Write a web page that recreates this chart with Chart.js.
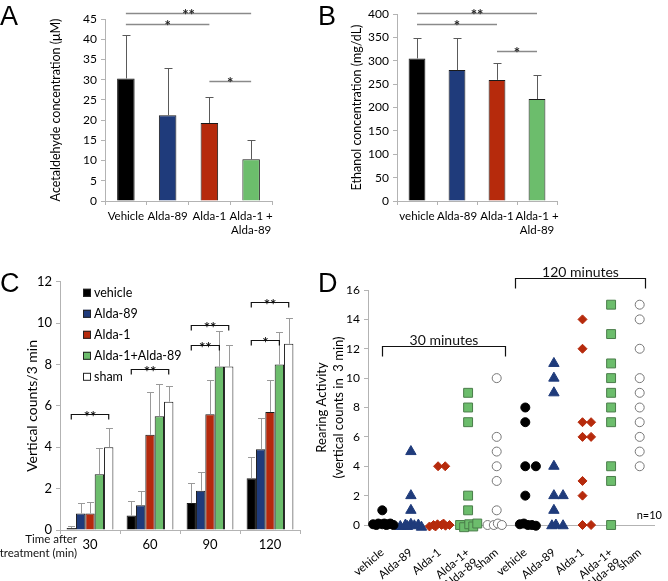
<!DOCTYPE html>
<html>
<head>
<meta charset="utf-8">
<script src="https://cdn.jsdelivr.net/npm/chart.js@4.4.1/dist/chart.umd.min.js"></script>
<style>
body { margin: 0; background: #fff; }
#wrap { position: relative; width: 668px; height: 581px; overflow: hidden; }
canvas { position: absolute; }
.lt { position: absolute; font-family: "Liberation Sans", Arial, sans-serif; font-size: 27px; line-height: 1; color: #000; }
</style>
</head>
<body>
<div id="wrap">
  <canvas id="cA" width="334" height="270" style="left:0;top:0"></canvas>
  <canvas id="cB" width="334" height="270" style="left:334px;top:0"></canvas>
  <canvas id="cC" width="334" height="311" style="left:0;top:270px"></canvas>
  <canvas id="cD" width="363" height="331" style="left:305px;top:250px"></canvas>
  <div class="lt" style="left:0;top:3px">A</div>
  <div class="lt" style="left:318px;top:3px">B</div>
  <div class="lt" style="left:0;top:270px">C</div>
  <div class="lt" style="left:318px;top:270px">D</div>
</div>
<script>
// ---- data ----
var catsA = ['Vehicle', 'Alda-89', 'Alda-1', ['Alda-1 +', 'Alda-89']]
var meanA = [30.3, 21.2, 19.3, 10.3]
var sdA = [10.7, 11.6, 6.5, 4.8]
// [from cat, to cat, y, label]
var sigA = [[0, 3, 46.6, '**'], [0, 2, 43.8, '*'], [2, 3, 29.7, '*']]

var catsB = ['vehicle', 'Alda-89', 'Alda-1', ['Alda-1 +', 'Ald-89']]
var meanB = [305, 280, 259, 218]
var sdB = [43, 68, 37, 52]
var sigB = [[0, 3, 403, '**'], [0, 2, 379, '*'], [2, 3, 321, '*']]

var timesC = ['30', '60', '90', '120']
var vehicleC = [0.1, 0.7, 1.3, 2.5]
var vehicleSdC = [0.1, 0.7, 0.95, 1.05]
var alda89C = [0.8, 1.2, 1.9, 3.9]
var alda89SdC = [0.5, 0.7, 0.9, 1.5]
var alda1C = [0.8, 4.6, 5.6, 5.7]
var alda1SdC = [0.55, 2.05, 1.65, 1.55]
var comboC = [2.7, 5.5, 7.9, 8.0]
var comboSdC = [1.25, 1.55, 1.7, 1.55]
var shamC = [4.0, 6.2, 7.9, 9.0]
var shamSdC = [0.95, 0.75, 1.05, 1.25]
// [group, from dataset, to dataset, y, label]
var sigC = [[0, 0, 4, 5.6, '**'], [1, 0, 4, 7.8, '**'], [2, 0, 4, 9.9, '**'],
            [2, 0, 3, 8.95, '**'], [3, 0, 4, 11.0, '**'], [3, 0, 3, 9.2, '*']]

var catsD = ['vehicle', 'Alda-89', 'Alda-1', ['Alda-1+', 'Alda-89'], 'sham',
             'vehicle', 'Alda-89', 'Alda-1', ['Alda-1+', 'Alda-89'], 'sham']
// rearing counts per animal, with the sideways jitter used in the picture
var vehicle30 = [1, 0.05, 0.1, 0.05, 0, 0.1, 0, 0, 0.05, 0.1]
var vehicle30Dx = [0, -0.32, -0.14, 0, 0.14, 0.28, 0.39, -0.21, 0.21, 0.07]
var alda89_30 = [5, 2, 1, -0.1, 0, 0.05, -0.05, 0, -0.15, -0.1]
var alda89_30Dx = [0, 0, 0, -0.37, -0.19, 0, 0.12, 0.26, 0.37, -0.12]
var alda1_30 = [4, 4, -0.1, 0, 0.05, 0, -0.05, 0, 0.1, -0.1]
var alda1_30Dx = [-0.05, 0.2, -0.35, -0.21, -0.07, 0.07, 0.21, 0.35, 0.14, -0.14]
var combo30 = [9, 8, 7, 2, 1, 0, -0.15, 0.05, -0.1, 0.1]
var combo30Dx = [0, 0, 0, 0, 0, -0.28, -0.14, 0.04, 0.18, 0.32]
var sham30 = [10, 6, 5, 4, 3, 1, 0, 0, 0.1, 0]
var sham30Dx = [0, 0, 0, 0, 0, 0, -0.32, -0.1, 0.04, 0.18]
var vehicle120 = [8, 7, 4, 4, 2, 0.05, 0.1, 0, 0, -0.05]
var vehicle120Dx = [0, 0, 0, 0.37, 0, -0.19, -0.05, 0.09, 0.23, 0.37]
var alda89_120 = [11, 10, 9, 4, 2, 2, 1, -0.05, 0, -0.05]
var alda89_120Dx = [0, 0, 0, 0, 0, 0.32, 0, -0.07, 0.07, 0.32]
var alda1_120 = [14, 12, 7, 7, 6, 6, 3, 2, 0, 0]
var alda1_120Dx = [0, 0, 0, 0.3, 0, 0.3, 0, 0, 0, 0.3]
var combo120 = [15, 13, 11, 10, 9, 8, 7, 4, 3, 0]
var combo120Dx = [0, 0, 0, 0, 0, 0, 0, 0, 0, 0]
var sham120 = [15, 14, 12, 10, 9, 8, 7, 6, 5, 4]
var sham120Dx = [0, 0, 0, 0, 0, 0, 0, 0, 0, 0]
// [x from, x to, y, label]
var bracketsD = [[0, 4.3, 12.2, '30 minutes'], [4.65, 9.2, 16.8, '120 minutes']]

// ---- styles ----
var BLACK = '#000000', BLUE = '#1f3b7b', RED = '#b62a0c', GREEN = '#6cbd6c', WHITE = '#ffffff'
var AXIS = '#b3b3b3'
var FONT = 'Lato, "Liberation Sans", sans-serif'
Chart.defaults.font.family = FONT
Chart.defaults.color = '#000'
Chart.defaults.animation = false

// upper error bar for every bar that has an sd array
var errorBars = function(color, cap) {
    return {
        id: 'errorBars',
        afterDatasetsDraw: function(chart) {
            var ctx = chart.ctx, y = chart.scales.y
            chart.data.datasets.forEach(function(ds, i) {
                if (!ds.sd) return
                chart.getDatasetMeta(i).data.forEach(function(bar, j) {
                    var x = Math.round(bar.x) + 0.5
                    var top = Math.round(y.getPixelForValue(ds.data[j] + ds.sd[j])) + 0.5
                    ctx.save()
                    ctx.strokeStyle = color
                    ctx.lineWidth = 1
                    ctx.beginPath()
                    ctx.moveTo(x, bar.y)
                    ctx.lineTo(x, top)
                    ctx.moveTo(x - cap, top)
                    ctx.lineTo(x + cap, top)
                    ctx.stroke()
                    ctx.restore()
                })
            })
        }
    }
}

// significance lines between categories (panels A, B)
var sigLines = function(marks, color) {
    return {
        id: 'sigLines',
        afterDraw: function(chart) {
            var ctx = chart.ctx, xs = chart.scales.x, ys = chart.scales.y
            ctx.save()
            marks.forEach(function(m) {
                var x0 = xs.getPixelForValue(m[0]), x1 = xs.getPixelForValue(m[1])
                var y = Math.round(ys.getPixelForValue(m[2])) + 0.5
                ctx.strokeStyle = color
                ctx.lineWidth = 1.3
                ctx.beginPath()
                ctx.moveTo(x0, y)
                ctx.lineTo(x1, y)
                ctx.stroke()
                ctx.fillStyle = '#222'
                ctx.font = 'bold 15px ' + FONT
                ctx.textAlign = 'center'
                ctx.textBaseline = 'alphabetic'
                ctx.fillText(m[3], (x0 + x1) / 2, y + 6)
            })
            ctx.restore()
        }
    }
}

// brackets between bars of one group (panel C)
var barBrackets = function(marks) {
    return {
        id: 'barBrackets',
        afterDraw: function(chart) {
            var ctx = chart.ctx, ys = chart.scales.y
            ctx.save()
            marks.forEach(function(m) {
                var x0 = chart.getDatasetMeta(m[1]).data[m[0]].x
                var x1 = chart.getDatasetMeta(m[2]).data[m[0]].x
                var y = Math.round(ys.getPixelForValue(m[3])) + 0.5
                ctx.strokeStyle = '#111'
                ctx.lineWidth = 1.2
                ctx.beginPath()
                ctx.moveTo(x0, y + 5)
                ctx.lineTo(x0, y)
                ctx.lineTo(x1, y)
                ctx.lineTo(x1, y + 5)
                ctx.stroke()
                ctx.fillStyle = '#111'
                ctx.font = 'bold 15px ' + FONT
                ctx.textAlign = 'center'
                ctx.fillText(m[4], (x0 + x1) / 2, y + 7)
            })
            // x axis caption
            ctx.font = '11.5px ' + FONT
            ctx.textAlign = 'right'
            ctx.textBaseline = 'middle'
            ctx.fillText('Time after', chart.chartArea.left + 17, chart.chartArea.bottom + 9)
            ctx.fillText('treatment (min)', chart.chartArea.left + 17, chart.chartArea.bottom + 23)
            ctx.restore()
        }
    }
}

// legend drawn inside the plot (panel C)
var boxLegend = {
    id: 'boxLegend',
    afterDraw: function(chart) {
        var ctx = chart.ctx, a = chart.chartArea
        ctx.save()
        ctx.font = '12.5px ' + FONT
        ctx.textBaseline = 'middle'
        ctx.textAlign = 'left'
        chart.data.datasets.forEach(function(ds, i) {
            var y = a.top + 11 + i * 21
            ctx.fillStyle = ds.backgroundColor
            ctx.fillRect(a.left + 23, y - 4, 8, 8)
            ctx.strokeStyle = '#222'
            ctx.lineWidth = 1
            ctx.strokeRect(a.left + 23.5, y - 3.5, 7, 7)
            ctx.fillStyle = '#000'
            ctx.fillText(ds.label, a.left + 34, y)
        })
        ctx.restore()
    }
}

// time brackets and n label (panel D)
var timeBrackets = function(marks) {
    return {
        id: 'timeBrackets',
        afterDraw: function(chart) {
            var ctx = chart.ctx, xs = chart.scales.x, ys = chart.scales.y
            ctx.save()
            marks.forEach(function(m) {
                var x0 = Math.round(xs.getPixelForValue(m[0])) + 0.5
                var x1 = Math.round(xs.getPixelForValue(m[1])) + 0.5
                var y = Math.round(ys.getPixelForValue(m[2])) + 0.5
                ctx.strokeStyle = '#111'
                ctx.lineWidth = 1.2
                ctx.beginPath()
                ctx.moveTo(x0, y + 10)
                ctx.lineTo(x0, y)
                ctx.lineTo(x1, y)
                ctx.lineTo(x1, y + 10)
                ctx.stroke()
                ctx.fillStyle = '#111'
                ctx.font = '14px ' + FONT
                ctx.textAlign = 'center'
                ctx.textBaseline = 'alphabetic'
                ctx.fillText(m[3], (x0 + x1) / 2, y - 2)
            })
            ctx.font = '11px ' + FONT
            ctx.textAlign = 'right'
            ctx.fillStyle = '#000'
            ctx.fillText('n=10', chart.chartArea.right + 8, ys.getPixelForValue(0) - 6)
            ctx.restore()
        }
    }
}

function axisY(min, max, step, title, size, width) {
    return {
        min: min, max: max,
        ticks: { stepSize: step, font: { size: size }, padding: 4 },
        grid: { drawOnChartArea: false, tickLength: 4, color: AXIS },
        border: { color: AXIS },
        title: { display: true, text: title, font: { size: size + 0.5 }, padding: { top: 4, bottom: 0 } },
        afterFit: function(s) { s.width = width }
    }
}

function barChart(id, cats, means, sds, marks, yOpts, pad) {
    return new Chart(document.getElementById(id), {
        type: 'bar',
        data: {
            labels: cats,
            datasets: [{
                data: means,
                sd: sds,
                backgroundColor: [BLACK, BLUE, RED, GREEN],
                borderColor: '#1a1a1a',
                borderWidth: 1,
                barPercentage: 0.42,
                categoryPercentage: 1
            }]
        },
        options: {
            responsive: false,
            layout: { padding: pad },
            plugins: { legend: { display: false }, tooltip: { enabled: false } },
            scales: {
                x: {
                    grid: { drawOnChartArea: false, tickLength: 4, color: AXIS },
                    border: { color: AXIS },
                    ticks: { font: { size: 11.5, lineHeight: 1.15 }, padding: 5, maxRotation: 0, autoSkip: false },
                    afterFit: function(s) { s.height = 45 }
                },
                y: yOpts
            }
        },
        plugins: [errorBars('#5a5a5a', 4), sigLines(marks, '#8a8a8a')]
    })
}

barChart('cA', catsA, meanA, sdA, sigA,
    axisY(0, 45, 5, 'Acetaldehyde concentration (\u03bcM)', 12, 61),
    { left: 44, right: 62, top: 19, bottom: 24 })

barChart('cB', catsB, meanB, sdB, sigB,
    axisY(0, 400, 50, 'Ethanol concentration (mg/dL)', 12, 52),
    { left: 11, right: 111, top: 14, bottom: 24 })

// ---- panel C ----
var yC = axisY(0, 12, 2, 'Vertical counts/3 min', 13, 40)
yC.title.font = { size: 14 }
new Chart(document.getElementById('cC'), {
    type: 'bar',
    data: {
        labels: timesC,
        datasets: [
            { label: 'vehicle', data: vehicleC, sd: vehicleSdC, backgroundColor: BLACK },
            { label: 'Alda-89', data: alda89C, sd: alda89SdC, backgroundColor: BLUE },
            { label: 'Alda-1', data: alda1C, sd: alda1SdC, backgroundColor: RED },
            { label: 'Alda-1+Alda-89', data: comboC, sd: comboSdC, backgroundColor: GREEN },
            { label: 'sham', data: shamC, sd: shamSdC, backgroundColor: WHITE }
        ]
    },
    options: {
        responsive: false,
        layout: { padding: { left: 20, right: 34, top: 11, bottom: 21 } },
        datasets: { bar: { borderColor: '#1a1a1a', borderWidth: 1, barPercentage: 1, categoryPercentage: 0.78 } },
        plugins: { legend: { display: false }, tooltip: { enabled: false } },
        scales: {
            x: {
                grid: { drawOnChartArea: false, tickLength: 4, color: AXIS },
                border: { color: AXIS },
                ticks: { font: { size: 13 }, padding: 3 },
                afterFit: function(s) { s.height = 30 }
            },
            y: yC
        }
    },
    plugins: [errorBars('#9a9a9a', 3.5), barBrackets(sigC), boxLegend]
})

// ---- panel D ----
function pts(center, ys, dxs) {
    return ys.map(function(v, k) { return { x: center + dxs[k], y: v } })
}
var yD = axisY(0, 16, 2, ['Rearing Activity', '(vertical counts in  3 min)'], 12, 63)
yD.title.font = { size: 13, lineHeight: 1.3 }
yD.title.padding = { top: 8, bottom: 0 }
new Chart(document.getElementById('cD'), {
    type: 'scatter',
    data: {
        datasets: [
            { data: pts(0, vehicle30, vehicle30Dx).concat(pts(5, vehicle120, vehicle120Dx)),
              pointStyle: 'circle', pointRadius: 4.5, backgroundColor: BLACK, borderColor: BLACK },
            { data: pts(1, alda89_30, alda89_30Dx).concat(pts(6, alda89_120, alda89_120Dx)),
              pointStyle: 'triangle', pointRadius: 6, backgroundColor: BLUE, borderColor: BLUE },
            { data: pts(2, alda1_30, alda1_30Dx).concat(pts(7, alda1_120, alda1_120Dx)),
              pointStyle: 'rectRot', pointRadius: 4.5, backgroundColor: RED, borderColor: RED },
            { data: pts(3, combo30, combo30Dx).concat(pts(8, combo120, combo120Dx)),
              pointStyle: 'rect', pointRadius: 6.3, backgroundColor: GREEN, borderColor: '#4a7d4a' },
            { data: pts(4, sham30, sham30Dx).concat(pts(9, sham120, sham120Dx)),
              pointStyle: 'circle', pointRadius: 4.5, backgroundColor: WHITE, borderColor: '#777' }
        ]
    },
    options: {
        responsive: false,
        layout: { padding: { left: 0, right: 14, top: 40, bottom: 0 } },
        datasets: { scatter: { clip: false, borderWidth: 1 } },
        plugins: { legend: { display: false }, tooltip: { enabled: false } },
        scales: {
            x: {
                type: 'linear', min: -0.5, max: 9.5,
                grid: { display: false },
                border: { color: AXIS },
                afterBuildTicks: function(s) { s.ticks = catsD.map(function(c, i) { return { value: i } }) },
                ticks: {
                    autoSkip: false, minRotation: 40, maxRotation: 40, padding: 13,
                    font: { size: 11.5, lineHeight: 1.1 },
                    callback: function(v) { return catsD[Math.round(v)] }
                },
                afterFit: function(s) { s.height = 56 }
            },
            y: yD
        }
    },
    plugins: [timeBrackets(bracketsD)]
})
</script>
</body>
</html>
